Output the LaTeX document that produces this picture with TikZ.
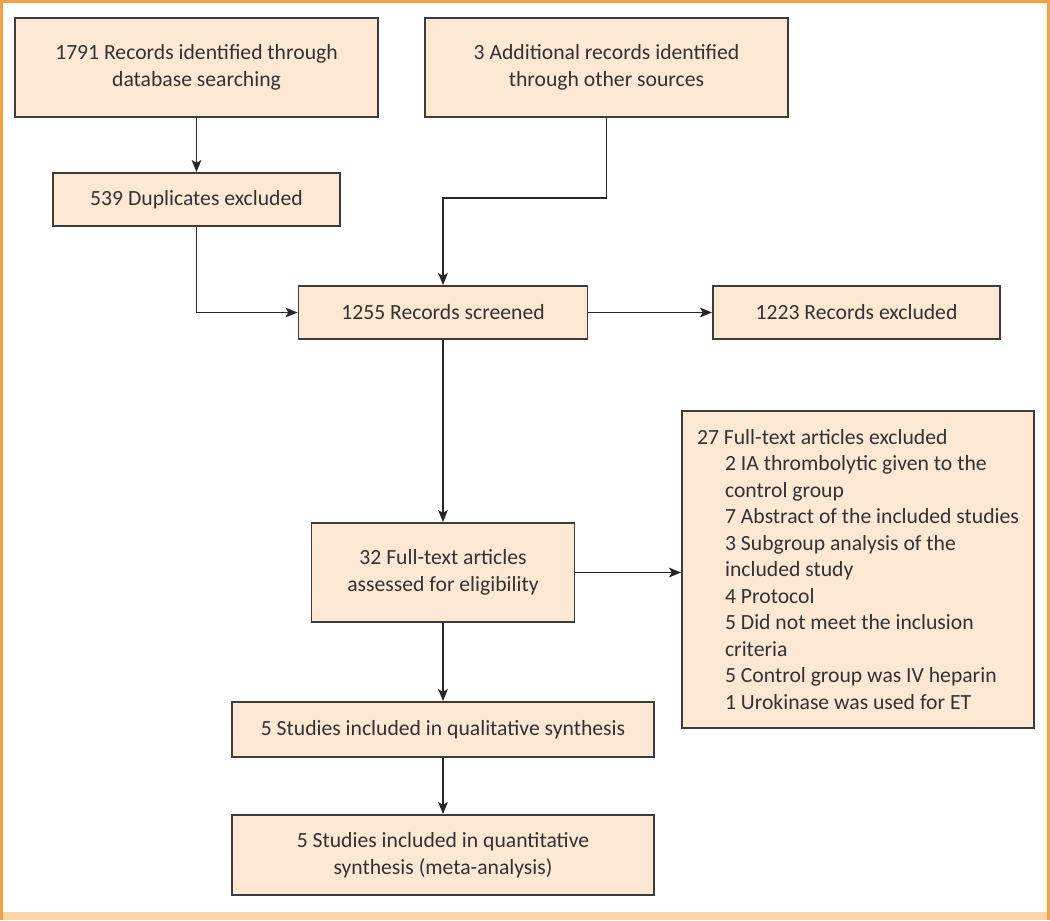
\documentclass[tikz,border=0pt]{standalone}
\usepackage{fontspec}
\setmainfont{Carlito}
\usetikzlibrary{arrows.meta}

\definecolor{cframe}{RGB}{247,160,64}
\definecolor{cband}{RGB}{253,213,165}
\definecolor{cfill}{RGB}{253,233,211}
\definecolor{cline}{RGB}{60,60,60}
\definecolor{ctext}{RGB}{50,50,50}

\newcommand{\exind}{\hspace*{0.7cm}}

\tikzset{
  box/.style={draw=cline,fill=cfill,line width=1.3pt,text=ctext,align=center,inner sep=0pt,font=\fontsize{15.4}{18.85}\selectfont},
  flow/.style={-{Stealth[length=0.3cm,width=0.24cm,inset=0.07cm]},line width=1.1pt,color=black!85},
}

\begin{document}
\begin{tikzpicture}[x=0.025cm,y=-0.025cm]
%
\useasboundingbox (0,0) rectangle (1050,920);
%
\fill[cband] (0,912) rectangle (1050,920);
\draw[cframe,line width=0.07cm] (1.75,920) -- (1.75,1.25) -- (1048.25,1.25) -- (1048.25,920);
%
\node[box,minimum width=9.075cm,minimum height=2.475cm] (ident) at (196.5,67.5) {1791 Records identified through\\database searching};
\node[box,minimum width=9.075cm,minimum height=2.475cm] (other) at (606.5,67.5) {3 Additional records identified\\through other sources};
\node[box,minimum width=7.175cm,minimum height=1.325cm] (dupl) at (196.5,199.5) {539 Duplicates excluded};
\node[box,minimum width=7.225cm,minimum height=1.325cm] (screen) at (443,312.5) {1255 Records screened};
\node[box,minimum width=7.175cm,minimum height=1.325cm] (recex) at (856.5,312.5) {1223 Records excluded};
\node[box,minimum width=6.575cm,minimum height=2.475cm] (full) at (443,572.5) {32 Full-text articles\\assessed for eligibility};
\node[box,align=left,minimum width=8.8cm,minimum height=7.925cm] (fullex) at (858,569.5) {27 Full-text articles excluded\\
\exind 2 IA thrombolytic given to the\\
\exind control group\\
\exind 7 Abstract of the included studies\\
\exind 3 Subgroup analysis of the\\
\exind included study\\
\exind 4 Protocol\\
\exind 5 Did not meet the inclusion\\
\exind criteria\\
\exind 5 Control group was IV heparin\\
\exind 1 Urokinase was used for ET};
\node[box,minimum width=10.55cm,minimum height=1.375cm] (qual) at (443,729.5) {5 Studies included in qualitative synthesis};
\node[box,minimum width=10.55cm,minimum height=2.0cm] (quant) at (443,855) {5 Studies included in quantitative\\synthesis (meta-analysis)};
%
\draw[flow] (ident) -- (dupl);
\draw[flow] (dupl.south) |- (screen.west);
\draw[flow] (other.south) -- ++(0,80) -| (screen.north);
\draw[flow] (screen) -- (recex);
\draw[flow] (screen) -- (full);
\draw[flow] (full.east) -- (full.east -| fullex.west);
\draw[flow] (full) -- (qual);
\draw[flow] (qual) -- (quant);
%
\end{tikzpicture}
\end{document}
